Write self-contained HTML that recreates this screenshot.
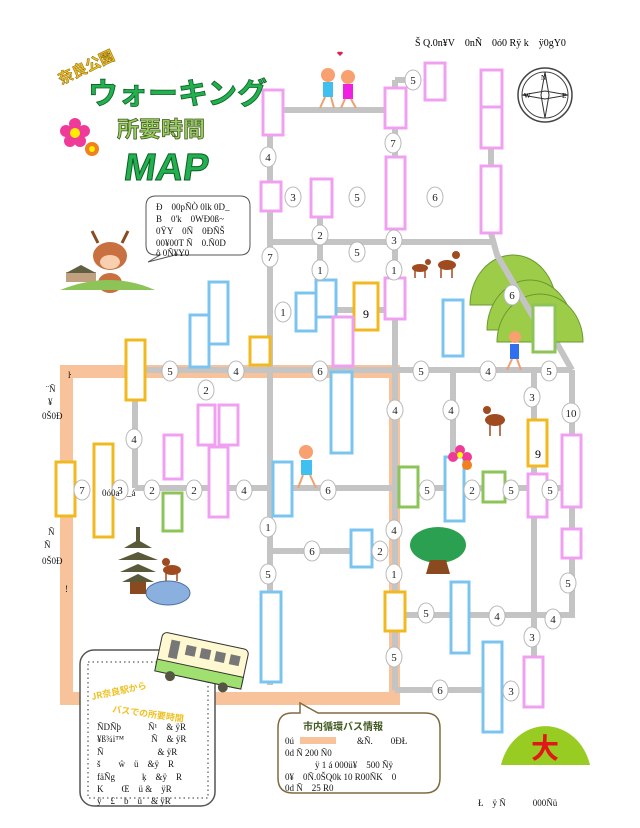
<!DOCTYPE html>
<html><head><meta charset="utf-8"><style>
html,body{margin:0;padding:0;background:#fff;}
svg{display:block;font-family:"Liberation Serif","Noto Serif CJK SC",serif;}
.r{stroke:#c4c4c4;stroke-width:6;fill:none;}
.o{fill:#f8c29a;}
.p{fill:#fff;stroke:#f0a0f0;stroke-width:3;}
.b{fill:#fff;stroke:#7cc4f0;stroke-width:3;}
.y{fill:#fff;stroke:#f2b820;stroke-width:3;}
.g{fill:#fff;stroke:#8cc458;stroke-width:3;}
.c ellipse{fill:#fff;stroke:#b8b8b8;stroke-width:1;}
.c text{font-size:11px;text-anchor:middle;fill:#222;}
.t{font-size:9px;fill:#111;}
</style></head><body>
<svg width="640" height="828" viewBox="0 0 640 828">
<!-- orange road -->
<rect class="o" x="60" y="365" width="340" height="13"/>
<rect class="o" x="60" y="365" width="13" height="340"/>
<rect class="o" x="60" y="692" width="340" height="13"/>
<rect class="o" x="389" y="365" width="11" height="340"/>
<!-- gray roads -->
<path class="r" d="M270 110H395M270 100V685M395 80V690M395 80H410M270 242H491M320 215V310H395M491 100V233L497 255L535 320L555 340L572 370M140 370H572M572 370V615H395M534 370V660M453 370V460M135 370V488M135 488H572M270 551H362M395 690H505"/>
<!-- hills -->
<path d="M470 305A43 50 0 0 1 556 305Z" fill="#9ccc48" stroke="#6a9a30"/>
<path d="M487 330A43 50 0 0 1 573 330Z" fill="#9ccc48" stroke="#6a9a30"/>
<path d="M497 342A43 48 0 0 1 583 342Z" fill="#9ccc48" stroke="#6a9a30"/>
<path class="r" d="M497 255L535 320L555 340"/>
<!-- boxes -->
<rect class="p" x="263" y="90" width="20" height="45"/>
<rect class="p" x="385" y="88" width="21" height="40"/>
<rect class="p" x="425" y="63" width="20" height="37"/>
<rect class="p" x="481" y="70" width="21" height="37"/>
<rect class="p" x="481" y="107" width="21" height="41"/>
<rect class="p" x="261" y="182" width="20" height="29"/>
<rect class="p" x="311" y="179" width="21" height="38"/>
<rect class="p" x="386" y="157" width="19" height="72"/>
<rect class="p" x="481" y="166" width="20" height="67"/>
<rect class="p" x="385" y="278" width="20" height="41"/>
<rect class="b" x="296" y="293" width="20" height="38"/>
<rect class="b" x="316" y="280" width="20" height="37"/>
<rect class="y" x="354" y="283" width="24" height="47"/>
<rect class="p" x="333" y="317" width="20" height="49"/>
<rect class="b" x="190" y="315" width="19" height="52"/>
<rect class="b" x="209" y="282" width="19" height="62"/>
<rect class="y" x="250" y="337" width="20" height="28"/>
<rect class="y" x="126" y="340" width="19" height="60"/>
<rect class="b" x="443" y="300" width="20" height="56"/>
<rect class="g" x="533" y="305" width="22" height="47"/>
<rect class="b" x="331" y="372" width="21" height="81"/>
<rect class="p" x="198" y="405" width="17" height="40"/>
<rect class="p" x="219" y="405" width="19" height="40"/>
<rect class="p" x="164" y="435" width="18" height="44"/>
<rect class="y" x="94" y="444" width="19" height="93"/>
<rect class="y" x="56" y="462" width="19" height="54"/>
<rect class="g" x="163" y="493" width="19" height="38"/>
<rect class="p" x="209" y="447" width="19" height="70"/>
<rect class="b" x="273" y="462" width="19" height="54"/>
<rect class="g" x="399" y="467" width="19" height="40"/>
<rect class="b" x="445" y="457" width="19" height="64"/>
<rect class="g" x="483" y="472" width="22" height="30"/>
<rect class="y" x="528" y="420" width="19" height="46"/>
<rect class="p" x="528" y="474" width="19" height="43"/>
<rect class="p" x="562" y="435" width="19" height="72"/>
<rect class="p" x="562" y="529" width="19" height="29"/>
<rect class="b" x="351" y="530" width="21" height="37"/>
<rect class="b" x="261" y="592" width="20" height="90"/>
<rect class="y" x="385" y="592" width="20" height="39"/>
<rect class="b" x="451" y="582" width="18" height="71"/>
<rect class="b" x="483" y="642" width="19" height="90"/>
<rect class="p" x="524" y="657" width="19" height="50"/>
<text x="366" y="318" font-size="12" text-anchor="middle">9</text>
<text x="538" y="458" font-size="12" text-anchor="middle">9</text>
<!-- circles -->
<g class="c">
<ellipse cx="413" cy="80" rx="8" ry="10"/><text x="413" y="84">5</text>
<ellipse cx="393" cy="143" rx="8" ry="10"/><text x="393" y="147">7</text>
<ellipse cx="268" cy="157" rx="8" ry="10"/><text x="268" y="161">4</text>
<ellipse cx="293" cy="197" rx="8" ry="10"/><text x="293" y="201">3</text>
<ellipse cx="357" cy="197" rx="8" ry="10"/><text x="357" y="201">5</text>
<ellipse cx="435" cy="197" rx="8" ry="10"/><text x="435" y="201">6</text>
<ellipse cx="320" cy="235" rx="8" ry="10"/><text x="320" y="239">2</text>
<ellipse cx="357" cy="252" rx="8" ry="10"/><text x="357" y="256">5</text>
<ellipse cx="394" cy="240" rx="8" ry="10"/><text x="394" y="244">3</text>
<ellipse cx="320" cy="270" rx="8" ry="10"/><text x="320" y="274">1</text>
<ellipse cx="394" cy="270" rx="8" ry="10"/><text x="394" y="274">1</text>
<ellipse cx="270" cy="257" rx="8" ry="10"/><text x="270" y="261">7</text>
<ellipse cx="283" cy="312" rx="8" ry="10"/><text x="283" y="316">1</text>
<ellipse cx="512" cy="295" rx="8" ry="10"/><text x="512" y="299">6</text>
<ellipse cx="170" cy="371" rx="8" ry="10"/><text x="170" y="375">5</text>
<ellipse cx="236" cy="371" rx="8" ry="10"/><text x="236" y="375">4</text>
<ellipse cx="320" cy="371" rx="8" ry="10"/><text x="320" y="375">6</text>
<ellipse cx="421" cy="371" rx="8" ry="10"/><text x="421" y="375">5</text>
<ellipse cx="488" cy="371" rx="8" ry="10"/><text x="488" y="375">4</text>
<ellipse cx="549" cy="371" rx="8" ry="10"/><text x="549" y="375">5</text>
<ellipse cx="206" cy="390" rx="8" ry="10"/><text x="206" y="394">2</text>
<ellipse cx="532" cy="397" rx="8" ry="10"/><text x="532" y="401">3</text>
<ellipse cx="395" cy="410" rx="8" ry="10"/><text x="395" y="414">4</text>
<ellipse cx="451" cy="410" rx="8" ry="10"/><text x="451" y="414">4</text>
<ellipse cx="571" cy="413" rx="9" ry="10"/><text x="571" y="417">10</text>
<ellipse cx="134" cy="439" rx="8" ry="10"/><text x="134" y="443">4</text>
<ellipse cx="82" cy="490" rx="8" ry="10"/><text x="82" y="494">7</text>
<ellipse cx="120" cy="490" rx="8" ry="10"/><text x="120" y="494">3</text>
<ellipse cx="152" cy="490" rx="8" ry="10"/><text x="152" y="494">2</text>
<ellipse cx="194" cy="490" rx="8" ry="10"/><text x="194" y="494">2</text>
<ellipse cx="244" cy="490" rx="8" ry="10"/><text x="244" y="494">4</text>
<ellipse cx="328" cy="490" rx="8" ry="10"/><text x="328" y="494">6</text>
<ellipse cx="427" cy="490" rx="8" ry="10"/><text x="427" y="494">5</text>
<ellipse cx="472" cy="490" rx="8" ry="10"/><text x="472" y="494">2</text>
<ellipse cx="511" cy="490" rx="8" ry="10"/><text x="511" y="494">5</text>
<ellipse cx="550" cy="490" rx="8" ry="10"/><text x="550" y="494">5</text>
<ellipse cx="268" cy="527" rx="8" ry="10"/><text x="268" y="531">1</text>
<ellipse cx="394" cy="530" rx="8" ry="10"/><text x="394" y="534">4</text>
<ellipse cx="312" cy="551" rx="8" ry="10"/><text x="312" y="555">6</text>
<ellipse cx="380" cy="551" rx="8" ry="10"/><text x="380" y="555">2</text>
<ellipse cx="394" cy="574" rx="8" ry="10"/><text x="394" y="578">1</text>
<ellipse cx="268" cy="574" rx="8" ry="10"/><text x="268" y="578">5</text>
<ellipse cx="568" cy="583" rx="8" ry="10"/><text x="568" y="587">5</text>
<ellipse cx="426" cy="613" rx="8" ry="10"/><text x="426" y="617">5</text>
<ellipse cx="497" cy="616" rx="8" ry="10"/><text x="497" y="620">4</text>
<ellipse cx="553" cy="619" rx="8" ry="10"/><text x="553" y="623">4</text>
<ellipse cx="532" cy="637" rx="8" ry="10"/><text x="532" y="641">3</text>
<ellipse cx="394" cy="657" rx="8" ry="10"/><text x="394" y="661">5</text>
<ellipse cx="440" cy="690" rx="8" ry="10"/><text x="440" y="694">6</text>
<ellipse cx="511" cy="691" rx="8" ry="10"/><text x="511" y="695">3</text>
</g>
<!-- header text -->
<text x="415" y="46" font-size="10">Š Q.0n¥V　0nÑ　0ó0 Rÿ k　ÿ0gY0</text>
<!-- title -->
<text x="58" y="80" font-size="15" font-weight="bold" fill="#f0c020" stroke="#886600" stroke-width="0.5" transform="rotate(-25 70 75)" font-family="Liberation Sans,Noto Sans CJK JP,sans-serif">奈良公園</text>
<text x="88" y="104" font-size="30" font-weight="bold" fill="#22b050" stroke="#0a6020" stroke-width="0.8" font-family="Liberation Sans,Noto Sans CJK JP,sans-serif">ウォーキング</text>
<text x="117" y="137" font-size="22" font-weight="bold" fill="#9ad060" stroke="#405a20" stroke-width="0.8" font-family="Liberation Sans,Noto Sans CJK JP,sans-serif">所要時間</text>
<text x="128" y="180" font-size="38" font-weight="bold" fill="#22b050" stroke="#0a6020" stroke-width="1" font-family="Liberation Sans,sans-serif" transform="skewX(-8) translate(20 0)">MAP</text>
<!-- flowers -->
<g fill="#f03a9a"><circle cx="75" cy="124" r="6"/><circle cx="66" cy="131" r="6"/><circle cx="84" cy="131" r="6"/><circle cx="70" cy="141" r="6"/><circle cx="80" cy="141" r="6"/></g><circle cx="75" cy="133" r="5" fill="#ffee00"/>
<circle cx="92" cy="149" r="7" fill="#f08020"/><circle cx="92" cy="149" r="3" fill="#ffee00"/>
<g fill="#f03a9a"><circle cx="460" cy="450" r="5"/><circle cx="453" cy="457" r="5"/><circle cx="467" cy="457" r="5"/></g><circle cx="460" cy="455" r="3" fill="#ff0"/><circle cx="467" cy="465" r="5" fill="#f08020"/>
<!-- compass -->
<circle cx="545" cy="95" r="27" fill="#fff" stroke="#444" stroke-width="1.5"/><circle cx="545" cy="95" r="23" fill="none" stroke="#444"/>
<path d="M545 72L549 95L545 118L541 95ZM522 95L545 91L568 95L545 99Z" fill="#fff" stroke="#333"/>
<text x="541" y="80" font-size="7">N</text><text x="524" y="98" font-size="7">W</text><text x="562" y="98" font-size="7">E</text>
<!-- couple -->
<circle cx="328" cy="75" r="7" fill="#f8a070"/><rect x="323" y="82" width="10" height="15" fill="#40c0f0"/>
<circle cx="348" cy="77" r="7" fill="#f8a070"/><rect x="343" y="84" width="10" height="15" fill="#f020e0"/>
<path d="M325 97L320 108M331 97L334 108M345 99L341 108M351 99L356 108" stroke="#f0a070" stroke-width="2"/>
<path d="M340 56l-3 -3a2 2 0 0 1 3-1a2 2 0 0 1 3 1z" fill="#e02050"/>
<!-- walkers -->
<circle cx="306" cy="452" r="7" fill="#f8a070"/><rect x="301" y="460" width="11" height="15" fill="#40c0f0"/><path d="M303 475L298 488M310 475L316 488" stroke="#f0a070" stroke-width="2"/>
<circle cx="515" cy="337" r="6" fill="#f8a070"/><rect x="510" y="344" width="9" height="15" fill="#3070f0"/><path d="M512 359L507 370M517 359L521 370" stroke="#f0a070" stroke-width="2"/>
<!-- deer -->
<g fill="#a04a20"><ellipse cx="420" cy="268" rx="8" ry="4"/><ellipse cx="447" cy="265" rx="9" ry="5"/><ellipse cx="495" cy="420" rx="10" ry="6"/><ellipse cx="172" cy="570" rx="9" ry="5"/><circle cx="428" cy="262" r="3"/><circle cx="456" cy="255" r="4"/><circle cx="487" cy="410" r="4"/><circle cx="166" cy="562" r="4"/></g>
<path d="M415 270v8M425 270v8M441 268v10M452 268v10M490 424v12M500 424v12M166 573v8M177 573v8" stroke="#a04a20" stroke-width="1.5"/>
<!-- mascot -->
<ellipse cx="110" cy="256" rx="17" ry="14" fill="#c87040"/><ellipse cx="110" cy="283" rx="12" ry="10" fill="#c87040"/><ellipse cx="110" cy="262" rx="10" ry="7" fill="#f8d0b0"/>
<path d="M98 243l-6-12M122 243l6-12" stroke="#8a4a20" stroke-width="3"/>
<rect x="66" y="272" width="30" height="10" fill="#c0a080"/><path d="M66 273l15-8 15 8z" fill="#606040"/>
<path d="M60 290Q110 270 155 290Z" fill="#8cc458"/>
<!-- speech bubble -->
<path d="M160 196H240Q250 196 250 206V245Q250 255 240 255H175L148 262L160 255H156Q146 255 146 245V206Q146 196 156 196Z" fill="#fff" stroke="#555"/>
<text class="t" x="156" y="210">Ð　00pÑÒ 0lk 0D_</text>
<text class="t" x="156" y="222">B　0'k　0WÐ0ß~</text>
<text class="t" x="156" y="234">0ŸY　0Ñ　0ÐÑŠ</text>
<text class="t" x="156" y="246">00¥00T Ñ　0.Ñ0D</text>
<text class="t" x="156" y="256">ô 0Ñ¥Y0</text>
<!-- left texts -->
<text class="t" x="68" y="378">ŀ</text>
<text class="t" x="46" y="392">¨Ñ</text><text class="t" x="48" y="405">¥</text><text class="t" x="42" y="419">0Š0Ð</text>
<text class="t" x="48" y="535">Ñ</text><text class="t" x="44" y="548">Ñ</text><text class="t" x="42" y="564">0Š0Ð</text><text class="t" x="65" y="592">!</text>
<text class="t" x="102" y="496">0ó0a</text><text class="t" x="127" y="496">_á</text>
<!-- pagoda -->
<ellipse cx="168" cy="593" rx="22" ry="12" fill="#8ab0e0" stroke="#5070a0"/>
<g fill="#5a5a3a"><path d="M118 560h40l-20 -8z"/><path d="M120 572h36l-18-8z"/><path d="M122 582h32l-16-8z"/><path d="M124 548h28l-14-8z"/></g>
<rect x="130" y="582" width="16" height="12" fill="#8a4a20"/><rect x="136" y="527" width="4" height="14" fill="#5a5a3a"/>
<!-- tree -->
<ellipse cx="438" cy="545" rx="28" ry="18" fill="#2aa050"/><path d="M430 560h16l4 14h-24z" fill="#8a4a20"/>
<!-- bottom left box -->
<rect x="80" y="650" width="135" height="156" rx="14" fill="#fff" stroke="#555" stroke-width="1.5"/>
<rect x="88" y="662" width="120" height="136" fill="none" stroke="#333" stroke-dasharray="1.5 3"/>
<text x="92" y="700" font-size="9" font-weight="bold" fill="#f0c020" transform="rotate(-12 92 700)" font-family="Noto Sans CJK JP,sans-serif">JR奈良駅から</text>
<text x="112" y="712" font-size="9" font-weight="bold" fill="#f0c020" transform="rotate(8 112 712)" font-family="Noto Sans CJK JP,sans-serif">バスでの所要時間</text>
<text class="t" x="97" y="730">ÑDÑþ　　　Ñ¹　&amp; ÿR</text>
<text class="t" x="97" y="742">¥ß¾i™　　　Ñ　&amp; ÿR</text>
<text class="t" x="97" y="755">Ñ　　　　　　&amp; ÿR</text>
<text class="t" x="97" y="767">š　　ŵ　ü　&amp;ÿ　R</text>
<text class="t" x="97" y="780">fäÑg　　　ķ　&amp;ÿ　R</text>
<text class="t" x="97" y="792">K　　Œ　ü &amp;　ÿR</text>
<text class="t" x="97" y="804">ÿ　£　b　ü　&amp; ÿR</text>
<!-- bus -->
<g transform="rotate(12 200 660)"><rect x="158" y="640" width="88" height="40" rx="5" fill="#fff8d0" stroke="#333"/><rect x="158" y="668" width="88" height="12" fill="#a0e070" stroke="#333"/>
<rect x="168" y="646" width="9" height="18" fill="#777"/><rect x="184" y="648" width="10" height="10" fill="#777"/><rect x="199" y="648" width="10" height="10" fill="#777"/><rect x="214" y="648" width="10" height="10" fill="#777"/><rect x="229" y="648" width="10" height="10" fill="#777"/>
<circle cx="174" cy="682" r="5" fill="#554"/><circle cx="228" cy="682" r="5" fill="#554"/></g>
<!-- bus info bubble -->
<path d="M292 713H300L300 703L318 713H425Q440 713 440 728V778Q440 793 425 793H293Q278 793 278 778V728Q278 713 292 713Z" fill="#fff" stroke="#806a40" stroke-width="1.5"/>
<text x="303" y="730" font-size="10" font-weight="bold" fill="#405a20" font-family="Noto Sans CJK JP,sans-serif">市内循環バス情報</text>
<rect x="300" y="737" width="36" height="7" fill="#f8c29a"/>
<text class="t" x="285" y="744">0ú　　　　　　　&amp;Ñ.　　0ÐŁ</text>
<text class="t" x="285" y="756">0d Ñ 200 Ñ0</text>
<text class="t" x="315" y="768">ÿ 1 á 000ü¥　500 Ñÿ</text>
<text class="t" x="285" y="780">0¥　0Ñ.0ŠQ0k 10 R00ÑK　0</text>
<text class="t" x="285" y="791">0d Ñ　25 R0</text>
<!-- 大 -->
<path d="M501 765A46 52 0 0 1 590 765Z" fill="#99cc22"/>
<text x="545" y="758" font-size="28" font-weight="bold" fill="#e01818" text-anchor="middle" font-family="Noto Sans CJK JP,sans-serif">大</text>
<text class="t" x="478" y="806">Ł　ÿ Ñ　　　000Ñü</text>
</svg>
</body></html>
